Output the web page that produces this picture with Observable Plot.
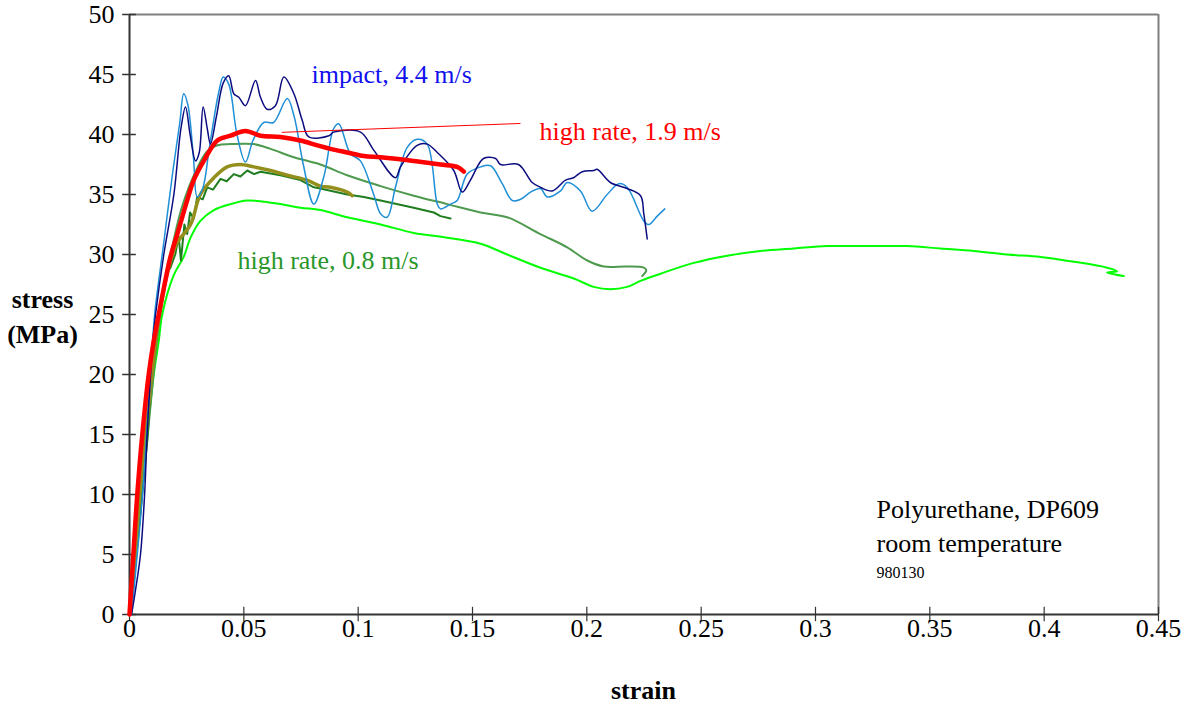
<!DOCTYPE html>
<html>
<head>
<meta charset="utf-8">
<script src="https://cdn.jsdelivr.net/npm/d3@7"></script>
<script src="https://cdn.jsdelivr.net/npm/@observablehq/plot@0.6"></script>
<style>
  html, body { margin: 0; padding: 0; background: #fff; }
  #chart svg { display: block; }
  #chart text { font-family: 'Liberation Serif', 'Times New Roman', serif; }
</style>
</head>
<body>
<div id="chart"></div>
<script>
// ---- data: [strain, stress (MPa)] ----
const impactA = [[0.0009,0],[0.0026,2],[0.0048,5],[0.0066,10],[0.0077,15],[0.0092,20],[0.0102,22.8],[0.0114,25],[0.0150,30],[0.0194,35],[0.0225,40.5],[0.0245,42.3],[0.0265,40],[0.0289,37.8],[0.0305,38.5],[0.0322,42.3],[0.0340,40.5],[0.0354,39.2],[0.0380,41.5],[0.0410,44.3],[0.0434,44.9],[0.0456,43.4],[0.0478,43.1],[0.0507,42.4],[0.0551,44.5],[0.0573,43.1],[0.0602,42.1],[0.0638,42.4],[0.0675,44.8],[0.0719,43.4],[0.0755,41.2],[0.0784,39.8],[0.0872,39.9],[0.0893,40.2],[0.1010,40.2],[0.1068,38.7],[0.1163,36.4],[0.1185,37.3],[0.1258,39.1],[0.1302,39.2],[0.1346,38.5],[0.1418,37.0],[0.1455,35.2],[0.1491,36.2],[0.1548,38.0],[0.1601,38.0],[0.1622,37.5],[0.1701,37.5],[0.1761,36.0],[0.1797,35.6],[0.1849,35.3],[0.1907,36.2],[0.1942,36.4],[0.1980,36.9],[0.2030,37.0],[0.2045,37.1],[0.2103,36.0],[0.2176,35.5],[0.2235,34.9],[0.2249,33.4],[0.2264,31.3]];
const impactB = [[0.0009,0],[0.0034,5],[0.0057,10],[0.0075,15],[0.0092,20],[0.0110,25],[0.0150,31],[0.0190,37],[0.0220,41],[0.0237,43.4],[0.0255,42.5],[0.0280,38],[0.0296,34.8],[0.0320,35.5],[0.0350,39],[0.0390,43.5],[0.0410,44.8],[0.0434,44.2],[0.0470,40],[0.0507,37.7],[0.0540,39.5],[0.0587,41.0],[0.0630,41.0],[0.0690,43.0],[0.0720,41.5],[0.0760,37.5],[0.0806,34.2],[0.0850,36.5],[0.0893,40.5],[0.0915,40.9],[0.0966,38.4],[0.1010,37.8],[0.1068,35],[0.1098,33.4],[0.1127,33.1],[0.1163,35.6],[0.1214,38.9],[0.1258,39.6],[0.1302,39.2],[0.1346,34.2],[0.1360,33.8],[0.1404,34.2],[0.1433,34.5],[0.1477,36.7],[0.1535,37.3],[0.1579,37.4],[0.1630,35.9],[0.1674,34.5],[0.1710,34.6],[0.1754,35.2],[0.1797,35.5],[0.1827,34.8],[0.1885,35.3],[0.1914,36.0],[0.1972,35.3],[0.2023,33.6],[0.2089,35.0],[0.2140,35.9],[0.2176,35.6],[0.2249,32.8],[0.2271,32.5],[0.2308,33.2],[0.2341,33.8]];
const rate19 = [[0,0],[0.0017,5],[0.0034,10],[0.0056,15],[0.0084,20],[0.0106,22.8],[0.0128,25],[0.0179,29.8],[0.0209,31.7],[0.0252,34.5],[0.0281,36.2],[0.0325,37.8],[0.0384,39.5],[0.0442,39.9],[0.0507,40.3],[0.0573,39.9],[0.0660,39.8],[0.0748,39.5],[0.0821,39.1],[0.0879,38.8],[0.0952,38.5],[0.1025,38.2],[0.1098,38.1],[0.1243,37.8],[0.1360,37.5],[0.1433,37.3],[0.1462,36.9]];
const rateMid = [[0,0],[0.0030,5],[0.0055,10],[0.0080,15],[0.0105,20],[0.0135,25],[0.0180,30],[0.0230,34],[0.0296,37.2],[0.0340,38.6],[0.0384,39.1],[0.0442,39.2],[0.0544,39.2],[0.0617,38.8],[0.0719,38.1],[0.0835,37.5],[0.0952,36.6],[0.1098,35.7],[0.1243,34.9],[0.1389,34.2],[0.1535,33.5],[0.1652,33.1],[0.1797,31.7],[0.1914,30.6],[0.2002,29.5],[0.2074,29.0],[0.2176,29.0],[0.2249,28.9],[0.2260,28.7],[0.2242,28.2]];
const rateOlive = [[0,0],[0.0025,5],[0.0045,10],[0.0070,15],[0.0098,20],[0.0130,25],[0.0180,29.5],[0.0209,31],[0.0267,32.5],[0.0310,35.0],[0.0369,36.4],[0.0427,37.3],[0.0485,37.5],[0.0544,37.3],[0.0617,37.0],[0.0690,36.6],[0.0777,36.2],[0.0835,35.7],[0.0879,35.6],[0.0952,35.2],[0.0974,34.9]];
const rateDark = [[0,0],[0.0030,5],[0.0055,10],[0.0080,15],[0.0095,20],[0.0128,25],[0.0150,27],[0.0165,28.5],[0.0179,28.9],[0.0200,30.0],[0.0215,31.5],[0.0225,29.5],[0.0240,32.5],[0.0252,31.7],[0.0265,33.5],[0.0281,33.0],[0.0296,34.8],[0.0320,34.6],[0.0340,35.6],[0.0365,35.4],[0.0398,36.3],[0.0425,36.1],[0.0456,36.7],[0.0485,36.5],[0.0515,37.0],[0.0545,36.7],[0.0573,36.9],[0.0660,36.6],[0.0748,36.2],[0.0806,35.6],[0.0835,35.5],[0.0952,35.0],[0.1025,34.8],[0.1098,34.5],[0.1243,33.9],[0.1331,33.5],[0.1360,33.2],[0.1404,33.0]];
const rate08 = [[0,0],[0.0022,5],[0.0048,10],[0.0077,15],[0.0106,20],[0.0128,22.8],[0.0143,25],[0.0194,28.3],[0.0237,29.8],[0.0267,31.4],[0.0310,32.8],[0.0369,33.7],[0.0442,34.2],[0.0515,34.5],[0.0587,34.4],[0.0660,34.2],[0.0748,33.9],[0.0835,33.7],[0.0952,33.1],[0.1098,32.5],[0.1243,31.8],[0.1389,31.4],[0.1535,30.9],[0.1652,30.0],[0.1797,28.9],[0.1943,28.0],[0.2030,27.3],[0.2103,27.1],[0.2176,27.3],[0.2235,27.8],[0.2322,28.4],[0.2468,29.3],[0.2614,29.9],[0.2759,30.3],[0.2905,30.5],[0.3051,30.7],[0.3197,30.7],[0.3401,30.7],[0.3547,30.5],[0.3692,30.3],[0.3838,30.0],[0.3984,29.8],[0.4130,29.4],[0.4275,28.9],[0.4319,28.6],[0.4275,28.5],[0.4348,28.2]];

const xTicks = [0, 0.05, 0.1, 0.15, 0.2, 0.25, 0.3, 0.35, 0.4, 0.45];
const xTickLabels = ["0", "0.05", "0.1", "0.15", "0.2", "0.25", "0.3", "0.35", "0.4", "0.45"];
const yTicks = [0, 5, 10, 15, 20, 25, 30, 35, 40, 45, 50];
const yTickLabels = ["0", "5", "10", "15", "20", "25", "30", "35", "40", "45", "50"];

const labels = [
  {x: 0.0796, y: 45.0, text: "impact, 4.4 m/s", color: "#1010ee", size: 26},
  {x: 0.1793, y: 40.2, text: "high rate, 1.9 m/s", color: "#ff0000", size: 26},
  {x: 0.0472, y: 29.5, text: "high rate, 0.8 m/s", color: "#2a962a", size: 26},
  {x: 0.3267, y: 8.74, text: "Polyurethane, DP609", color: "#000000", size: 26},
  {x: 0.3267, y: 5.9, text: "room temperature", color: "#000000", size: 26},
  {x: 0.3267, y: 3.46, text: "980130", color: "#000000", size: 16}
];
const leader = [{x1: 0.0666, y1: 40.18, x2: 0.1710, y2: 40.92}];

const series = [
  {data: rate08, color: "#00ff00", width: 2, curve: "catmull-rom"},
  {data: rateMid, color: "#4e9a4e", width: 2, curve: "catmull-rom"},
  {data: rateDark, color: "#1f7d1f", width: 2},
  {data: rateOlive, color: "#948f1c", width: 3.5, curve: "catmull-rom"},
  {data: impactB, color: "#1f8fd6", width: 1.5, curve: "catmull-rom"},
  {data: impactA, color: "#0c0c80", width: 1.5, curve: "catmull-rom"},
  {data: rate19, color: "#ff0000", width: 4.5, curve: "catmull-rom"}
];

const font = "'Liberation Serif', 'Times New Roman', serif";

const chart = Plot.plot({
  width: 1184,
  height: 715,
  marginLeft: 129,
  marginRight: 26,
  marginTop: 14,
  marginBottom: 101,
  style: {fontFamily: font, fontSize: "26px", background: "#fff", color: "#000"},
  x: {domain: [0, 0.45], axis: null},
  y: {domain: [0, 50], axis: null},
  marks: [
    // frame
    Plot.ruleY([50], {stroke: "#808080", strokeWidth: 2}),
    Plot.ruleX([0.45], {stroke: "#808080", strokeWidth: 2}),
    // axes lines
    Plot.ruleY([0], {stroke: "#333", strokeWidth: 2}),
    Plot.ruleX([0], {stroke: "#333", strokeWidth: 2}),
    // ticks crossing axes
    Plot.ruleX(xTicks, {x: d => d, y1: -0.6, y2: 0.6, stroke: "#333", strokeWidth: 1.2}),
    Plot.ruleY(yTicks, {y: d => d, x1: -0.003, x2: 0.003, stroke: "#333", strokeWidth: 1.5}),
    // tick labels
    Plot.text(xTicks, {x: d => d, frameAnchor: "bottom", dy: 14, lineAnchor: "middle", text: (d, i) => xTickLabels[i], fill: "#000", fontSize: 26, fontFamily: font}),
    Plot.text(yTicks, {y: d => d, frameAnchor: "left", dx: -15, textAnchor: "end", lineAnchor: "middle", text: (d, i) => yTickLabels[i], fill: "#000", fontSize: 26, fontFamily: font}),
    // axis titles
    Plot.text(["stress\n(MPa)"], {frameAnchor: "left", dx: -87, textAnchor: "middle", lineHeight: 1.35, fontWeight: "bold", fontSize: 26, fill: "#000", fontFamily: font}),
    Plot.text(["strain"], {frameAnchor: "bottom", dy: 84, dx: 129 + 514 - (129 + 1029 / 2), textAnchor: "middle", fontWeight: "bold", fontSize: 26, fill: "#000", fontFamily: font}),
    // curves
    ...series.map(s => Plot.line(s.data, {x: d => d[0], y: d => d[1], stroke: s.color, strokeWidth: s.width, curve: s.curve || "linear", strokeLinejoin: "round", strokeLinecap: "round"})),
    // leader line
    Plot.link(leader, {x1: "x1", y1: "y1", x2: "x2", y2: "y2", stroke: "#ff0000", strokeWidth: 1}),
    // annotations
    Plot.text(labels, {x: "x", y: "y", text: "text", fill: "color", fontSize: "size", textAnchor: "start", lineAnchor: "middle", fontFamily: font})
  ]
});
document.getElementById("chart").appendChild(chart);
</script>
</body>
</html>
